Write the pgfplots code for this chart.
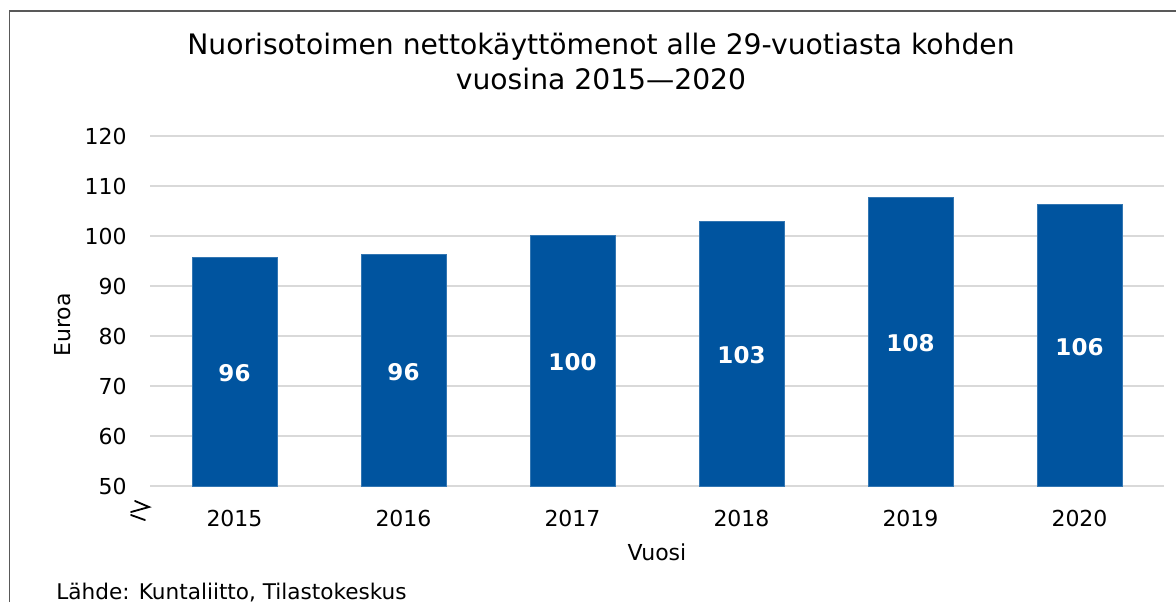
\documentclass[border=0pt]{standalone}
\usepackage{pgfplots}
\pgfplotsset{compat=1.18}
\usepackage{fontspec}
\setmainfont{DejaVu Sans}
\definecolor{barblue}{RGB}{0,84,159}
\definecolor{gridgray}{RGB}{217,217,217}
\definecolor{framegray}{RGB}{89,89,89}
\begin{document}
\begin{tikzpicture}
\useasboundingbox (0,0) rectangle (588pt,301pt);
\draw[framegray, line width=0.8pt] (4.8pt,0) -- (4.8pt,295.5pt) -- (588pt,295.5pt);
\begin{axis}[
  at={(75pt,58pt)}, anchor=south west,
  scale only axis, width=507pt, height=175pt,
  xmin=-0.5, xmax=5.5, ymin=50, ymax=120,
  xtick={0,...,5}, xticklabels={2015,2016,2017,2018,2019,2020},
  ytick={50,60,...,120},
  ymajorgrids, grid style={gridgray, line width=1pt},
  axis line style={draw=none},
  major tick length=0pt,
  tick label style={font=\fontsize{11}{13}\selectfont, text=black},
  yticklabel style={anchor=east, inner sep=0pt, xshift=-11.5pt},
  xticklabel style={anchor=north, inner sep=0pt, yshift=-12pt},
  /pgf/number format/assume math mode=true,
  clip=false,
]
\addplot[ybar, bar width=42.5pt, fill=barblue, draw=barblue!80!white, line width=0.4pt]
  coordinates {(0,95.8) (1,96.4) (2,100.2) (3,103.0) (4,107.8) (5,106.4)};
\addplot[draw=none, mark=none, nodes near coords, point meta=explicit symbolic,
  nodes near coords style={anchor=center, text=white, font=\bfseries\fontsize{11.5}{13}\selectfont}]
  coordinates {(0,72.5)[96] (1,72.8)[96] (2,74.7)[100] (3,76.1)[103] (4,78.5)[108] (5,77.8)[106]};
\end{axis}
\node[font=\fontsize{14.1}{16}\selectfont] at (300.5pt,277.5pt) {Nuorisotoimen nettokäyttömenot alle 29-vuotiasta kohden};
\node[font=\fontsize{14.1}{16}\selectfont] at (300.5pt,261.5pt) {vuosina 2015—2020};
\node[font=\fontsize{11}{13}\selectfont, rotate=90] at (31.5pt,138.5pt) {Euroa};
\node[font=\fontsize{11}{13}\selectfont] at (328.5pt,25pt) {Vuosi};
\node[font=\fontsize{10.8}{13}\selectfont, anchor=base west, inner sep=0pt] at (28pt,1.5pt) {Lähde: Kuntaliitto, Tilastokeskus};
\draw[black, line width=0.9pt, line cap=round, line join=miter]
  (67.5pt,50.5pt) -- (74.5pt,47.5pt) -- (65.5pt,45pt);
\draw[black, line width=0.9pt, line cap=round] (65.5pt,43.5pt) -- (72.5pt,41pt);
\end{tikzpicture}
\end{document}
